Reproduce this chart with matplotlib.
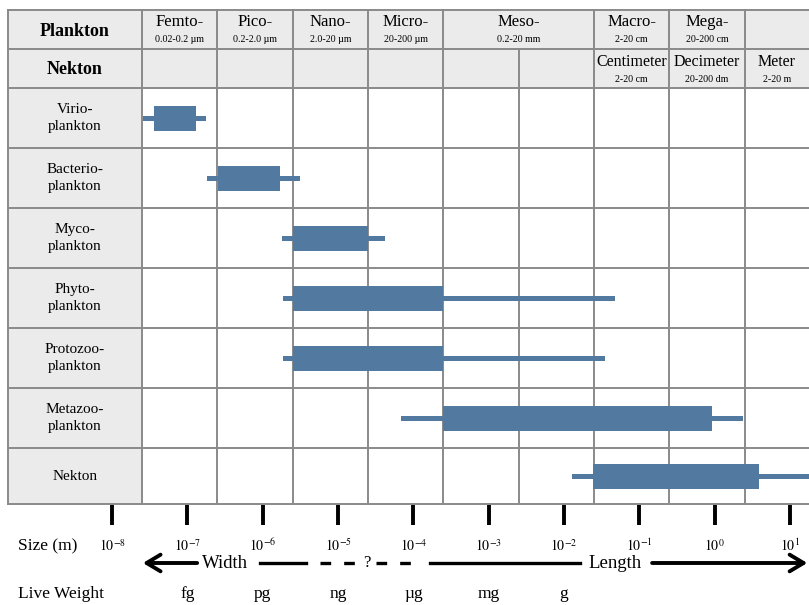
import numpy as np
import matplotlib.pyplot as plt

plt.rcParams['font.family'] = ['Liberation Serif', 'DejaVu Serif']
plt.rcParams['mathtext.fontset'] = 'stix'

# size classes (log10 of size in m)
groups = ['Virio-\nplankton', 'Bacterio-\nplankton', 'Myco-\nplankton',
          'Phyto-\nplankton', 'Protozoo-\nplankton', 'Metazoo-\nplankton',
          'Nekton']
range_lo = [-7.59, -6.74, -5.74, -5.73, -5.73, -4.17, -1.90]
range_hi = [-6.75, -5.50, -4.37, -1.32, -1.46, 0.38, 1.40]
core_lo = [-7.44, -6.59, -5.60, -5.60, -5.60, -3.60, -1.61]
core_hi = [-6.89, -5.77, -4.60, -3.60, -3.60, -0.03, 0.59]

plankton_names = ['Femto-', 'Pico-', 'Nano-', 'Micro-', 'Meso-', 'Macro-', 'Mega-', '']
plankton_sizes = ['0.02-0.2 µm', '0.2-2.0 µm', '2.0-20 µm', '20-200 µm',
                  '0.2-20 mm', '2-20 cm', '20-200 cm', '']
plankton_span = [1, 1, 1, 1, 2, 1, 1, 1]
nekton_names = ['', '', '', '', '', '', 'Centimeter', 'Decimeter', 'Meter']
nekton_sizes = ['', '', '', '', '', '', '2-20 cm', '20-200 dm', '2-20 m']

size_exp = [-8, -7, -6, -5, -4, -3, -2, -1, 0, 1]
weights = ['fg', 'pg', 'ng', 'µg', 'mg', 'g']
weight_exp = [-7, -6, -5, -4, -3, -2]

bar_color = '#52799f'
grid_color = '#8a8a8a'
cell_gray = '#ebebeb'

fig = plt.figure(figsize=(8.09, 6.05), dpi=100)
ax = fig.add_axes([0, 0, 1, 1])
px = 75.33  # pixels per decade
ax.set_xlim(-8 - 112 / px, -8 + (809 - 112) / px)
ax.set_ylim(605, 0)
ax.axis('off')

x_left = -8 - (112 - 8) / px
x_right = 1.6
edges = np.arange(-8, 1) + 0.4
head_top, head_mid, body_top = 10, 49, 88
row_tops = [88, 148, 208, 268, 328, 388, 448]
row_bots = row_tops[1:] + [504]

# backgrounds
ax.fill_between([x_left, x_right], head_top, body_top, color=cell_gray, lw=0)
ax.fill_between([x_left, edges[0]], body_top, row_bots[-1], color=cell_gray, lw=0)

# grid
lw = 1.4
for y in [head_top, head_mid] + row_tops + [row_bots[-1]]:
    ax.plot([x_left, x_right], [y, y], color=grid_color, lw=lw, zorder=1)
ax.plot([x_left, x_left], [head_top, row_bots[-1]], color=grid_color, lw=lw)
for i, e in enumerate(edges):
    top = head_mid if i == 5 else head_top
    ax.plot([e, e], [top, row_bots[-1]], color=grid_color, lw=lw, zorder=1)

# header text
ax.text((x_left + edges[0]) / 2, 31, 'Plankton', ha='center', va='center',
        fontsize=13, fontweight='bold')
ax.text((x_left + edges[0]) / 2, 69, 'Nekton', ha='center', va='center',
        fontsize=13, fontweight='bold')
col = 0
for name, sz, span in zip(plankton_names, plankton_sizes, plankton_span):
    a = edges[col]
    b = edges[col + span] if col + span < len(edges) else x_right
    c = (a + b) / 2
    ax.text(c, 22, name, ha='center', va='center', fontsize=12)
    ax.text(c, 40, sz, ha='center', va='center', fontsize=7.2)
    col += span
for i, (name, sz) in enumerate(zip(nekton_names, nekton_sizes)):
    if not name:
        continue
    b = edges[i + 1] if i + 1 < len(edges) else edges[i] + 0.85
    c = (edges[i] + b) / 2
    ax.text(c, 62, name, ha='center', va='center', fontsize=11.5)
    ax.text(c, 79, sz, ha='center', va='center', fontsize=7.2)

# rows
centers = [(t + b) / 2 for t, b in zip(row_tops, row_bots)]
for g, yc in zip(groups, centers):
    ax.text((x_left + edges[0]) / 2, yc, g, ha='center', va='center',
            fontsize=11, linespacing=1.4)
lo = np.array(range_lo)
hi = np.array(range_hi)
ax.barh(centers, hi - lo, left=lo, height=5, color=bar_color, zorder=3)
clo = np.array(core_lo)
chi = np.array(core_hi)
ax.barh(centers, chi - clo, left=clo, height=25, color=bar_color, zorder=3)

# size scale
ax.vlines(size_exp, 505, 525, color='black', lw=2.8)
for e in size_exp:
    ax.text(e, 546, r'$10^{%d}$' % e, ha='center', va='center', fontsize=10)
ax.text(-9.25, 546, 'Size (m)', ha='left', va='center', fontsize=12.5)
ax.text(-9.25, 594, 'Live Weight', ha='left', va='center', fontsize=12.5)
for w, e in zip(weights, weight_exp):
    ax.text(e, 594, w, ha='center', va='center', fontsize=12.5)

ya = 563
arrow = dict(arrowstyle='->,head_length=1.0,head_width=0.6', lw=2.8,
             color='black', shrinkA=0, shrinkB=0)
ax.annotate('', xy=(-7.59, ya), xytext=(-6.87, ya), arrowprops=arrow)
ax.text(-6.50, ya, 'Width', ha='center', va='center', fontsize=13.5)
ax.plot([-6.03, -5.42], [ya, ya], color='black', lw=2.4)
dash = (0, (3.2, 3.9))
ax.plot([-5.24, -4.73], [ya, ya], color='black', lw=2.4, linestyle=dash)
ax.text(-4.62, ya, '?', ha='center', va='center', fontsize=12)
ax.plot([-4.49, -3.98], [ya, ya], color='black', lw=2.4, linestyle=dash)
ax.plot([-3.78, -1.79], [ya, ya], color='black', lw=2.4)
ax.text(-1.32, ya, 'Length', ha='center', va='center', fontsize=13.5)
ax.annotate('', xy=(1.23, ya), xytext=(-0.83, ya), arrowprops=arrow)

fig.savefig('out.png', dpi=100)
